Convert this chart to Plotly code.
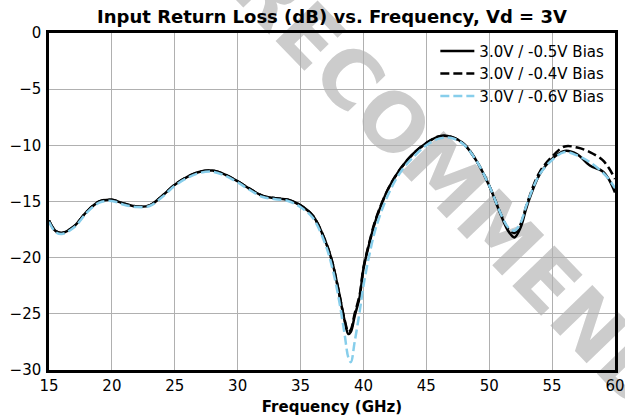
import plotly.graph_objects as go

title_text = "Input Return Loss (dB) vs. Frequency, Vd = 3V"
x_title = "Frequency (GHz)"
series_names = ["3.0V / -0.5V Bias", "3.0V / -0.4V Bias", "3.0V / -0.6V Bias"]
watermark = "RECOMMENDED"

freq = [15, 15.5, 16, 17, 18, 19, 20, 21, 22, 23, 24, 25, 26, 27, 28, 29, 30, 31,
        32, 33, 34, 35, 36, 37, 37.5, 38, 38.5, 38.8, 39.0, 39.3, 39.7, 40, 40.5,
        41, 42, 43, 44, 45, 46, 47, 48, 49, 50, 51, 51.5, 52, 52.5, 53, 54, 55,
        56, 57, 58, 59, 59.5, 60]

bias_05 = [-16.7, -17.6, -17.8, -17.2, -15.9, -15.0, -14.85, -15.2, -15.45, -15.35,
           -14.5, -13.5, -12.8, -12.35, -12.25, -12.6, -13.2, -13.9, -14.5, -14.7,
           -14.85, -15.35, -16.3, -18.6, -20.3, -22.8, -25.6, -26.8, -26.6, -25.2,
           -23.5, -21.0, -18.6, -16.6, -13.8, -12.0, -10.7, -9.8, -9.2, -9.25,
           -9.9, -11.4, -13.6, -16.4, -17.6, -18.2, -17.3, -15.4, -12.6, -11.2,
           -10.5, -10.8, -11.8, -12.3, -13.0, -14.2]

bias_04 = [-16.7, -17.6, -17.8, -17.2, -15.9, -15.0, -14.85, -15.2, -15.45, -15.35,
           -14.5, -13.5, -12.8, -12.35, -12.25, -12.6, -13.2, -13.9, -14.5, -14.7,
           -14.85, -15.35, -16.3, -18.6, -20.3, -22.8, -25.5, -26.6, -26.4, -25.0,
           -23.3, -20.9, -18.5, -16.5, -13.8, -12.0, -10.7, -9.8, -9.2, -9.25,
           -9.9, -11.4, -13.6, -16.3, -17.4, -17.8, -17.0, -15.2, -12.4, -11.0,
           -10.1, -10.2, -10.6, -11.3, -12.0, -13.0]

bias_06 = [-16.8, -17.7, -17.9, -17.3, -16.0, -15.1, -14.95, -15.3, -15.5, -15.4,
           -14.6, -13.6, -12.9, -12.45, -12.35, -12.7, -13.3, -14.0, -14.6, -14.8,
           -14.95, -15.5, -16.5, -18.9, -20.8, -23.4, -26.8, -28.9, -29.3, -27.5,
           -24.8, -22.5, -19.6, -17.3, -14.3, -12.3, -11.0, -10.0, -9.4, -9.35,
           -9.95, -11.4, -13.6, -16.3, -17.3, -17.6, -16.9, -15.2, -12.6, -11.3,
           -10.6, -10.9, -11.5, -12.4, -13.0, -13.8]

fig = go.Figure()
fig.add_trace(go.Scatter(x=freq, y=bias_05, mode="lines", name=series_names[0],
                         line=dict(color="black", width=2.5, shape="spline")))
fig.add_trace(go.Scatter(x=freq, y=bias_04, mode="lines", name=series_names[1],
                         line=dict(color="black", width=2.5, dash="9px,4px", shape="spline")))
fig.add_trace(go.Scatter(x=freq, y=bias_06, mode="lines", name=series_names[2],
                         line=dict(color="#87CEEB", width=2.5, dash="9px,4px", shape="spline")))

fig.add_shape(type="rect", xref="paper", yref="paper",
              x0=0.79, x1=0.80, y0=0.425, y1=0.441, layer="below",
              line=dict(width=0), fillcolor="rgba(0,0,0,0)",
              label=dict(text=watermark, textangle=46, textposition="middle center",
                         font=dict(size=80, color="#cccccc", family="DejaVu Sans", weight="bold")))

axis_common = dict(showgrid=True, gridcolor="#b0b0b0", gridwidth=1,
                   showline=True, linecolor="black", linewidth=2.5, mirror=True,
                   zeroline=False, ticks="", automargin=False, ticklabeloverflow="allow",
                   tickfont=dict(size=15, color="black"))

fig.update_layout(
    width=625, height=419,
    margin=dict(l=49, r=10, t=33, b=49),
    paper_bgcolor="white", plot_bgcolor="white",
    font=dict(family="DejaVu Sans", color="black"),
    title=dict(text="<b>" + title_text + "</b>", xref="paper", x=0.5, xanchor="center",
               y=0.9594, yanchor="middle", font=dict(size=18, color="black")),
    xaxis=dict(range=[15, 60], dtick=5, tick0=15,
               title=dict(text="<b>" + x_title + "</b>", font=dict(size=15), standoff=8),
               **axis_common),
    yaxis=dict(range=[-30, 0], dtick=5, ticklabelstandoff=2, **axis_common),
    legend=dict(x=0.99, xanchor="right", y=0.995, yanchor="top",
                bgcolor="rgba(0,0,0,0)", font=dict(size=15), itemwidth=34),
    showlegend=True,
)

fig.write_html(
    "out.html",
    config={"displayModeBar": False},
    post_script="document.body.style.margin='0';document.body.style.overflow='hidden';",
)
